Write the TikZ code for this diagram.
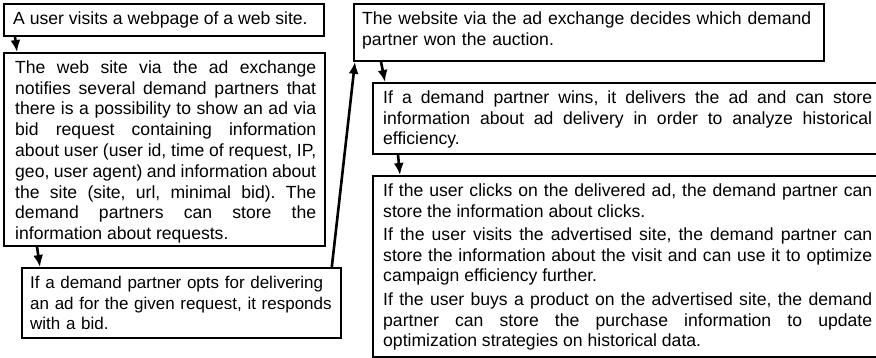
\documentclass[tikz,border=0pt]{standalone}
\usepackage{fontspec}
\setmainfont{Liberation Sans}
\usetikzlibrary{calc,arrows.meta}
\setlength{\parindent}{0pt}
\hyphenpenalty=10000
\exhyphenpenalty=10000
\frenchspacing
% strut fixing the height of a first line
\newcommand{\fstrut}{\rule{0pt}{16pt}}
\begin{document}
\begin{tikzpicture}[x=1pt,y=-1pt,
  box/.style={draw=black, line width=1.8pt, anchor=north west, inner sep=0pt, fill=white},
  txt/.style={anchor=north west, inner sep=0pt, text=black,
    font=\fontsize{17.6pt}{20.8pt}\selectfont},
  flow/.style={line width=2.6pt, -{Latex[length=12pt,width=10pt]}},
]
\useasboundingbox (0,0) rectangle (876,357);

% boxes
\node[box, minimum width=320pt, minimum height=32pt]  (a) at (3,3)   {};
\node[box, minimum width=321pt, minimum height=193pt] (b) at (3,52)  {};
\node[box, minimum width=319pt, minimum height=70pt]  (c) at (21,267) {};
\node[box, minimum width=470pt, minimum height=57pt]  (d) at (353,3) {};
\node[box, minimum width=505pt, minimum height=71pt]  (e) at (372,82) {};
\node[box, minimum width=505pt, minimum height=181pt] (f) at (372,175) {};

% texts
\node[txt] (at) at (13,8) {\fstrut A user visits a webpage of a web site.};
\node[txt, text width=301pt, align=justify] (bt) at (15,57) {\fstrut The web site via the ad exchange\linebreak
notifies several demand partners that\linebreak
there is a possibility to show an ad via\linebreak
bid request containing information\linebreak
about user (user id, time of request, IP,\linebreak
geo, user agent) and information about\linebreak
the site (site, url, minimal bid). The\linebreak
demand partners can store the\linebreak
information about requests.};
\node[txt, text width=320pt, align=left, font=\fontsize{17pt}{20.8pt}\selectfont] (ct) at (30,272) {\fstrut If a demand partner opts for delivering\\
an ad for the given request, it responds\\
with a bid.};
\node[txt, text width=460pt, align=left] (dt) at (362,8) {\fstrut The website via the ad exchange decides which demand\\
partner won the auction.};
\node[txt, text width=489pt, align=justify] (et) at (383,87) {\fstrut If a demand partner wins, it delivers the ad and can store\linebreak
information about ad delivery in order to analyze historical\linebreak
efficiency.};
\node[txt, text width=489pt, align=justify] (ft) at (383,180) {\setlength{\parskip}{2.5pt}\fstrut If the user clicks on the delivered ad, the demand partner can\linebreak
store the information about clicks.\par
If the user visits the advertised site, the demand partner can\linebreak
store the information about the visit and can use it to optimize\linebreak
campaign efficiency further.\par
If the user buys a product on the advertised site, the demand\linebreak
partner can store the purchase information to update\linebreak
optimization strategies on historical data.};

% connectors
\draw[flow] ($(a.south west)+(12,0)$) -- ($(b.north west)+(14,0)$);
\draw[flow] ($(b.south west)+(34,0)$) -- ($(c.north west)+(19,0)$);
\draw[flow] ($(c.north east)+(-10,0)$) -- ($(d.south west)+(2,0)$);
\draw[flow] ($(d.south west)+(28,0)$) -- ($(e.north west)+(13,0)$);
\draw[flow] ($(e.south west)+(26,0)$) -- ($(f.north west)+(28,0)$);
\end{tikzpicture}
\end{document}
